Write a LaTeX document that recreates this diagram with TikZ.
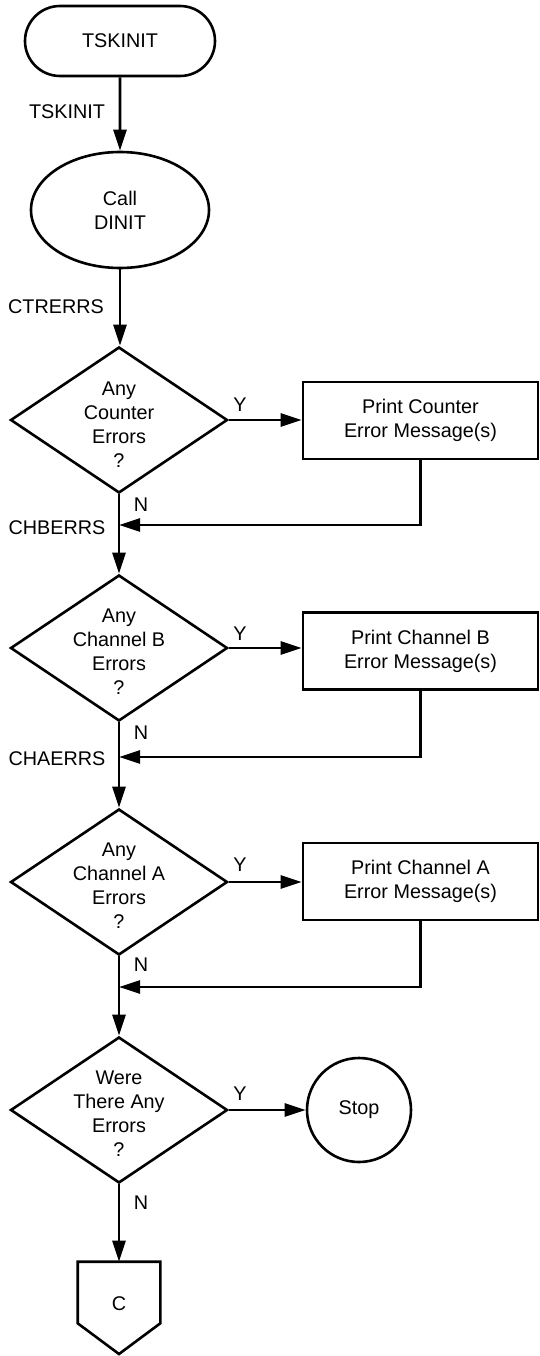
\documentclass[tikz,border=0pt]{standalone}
\usepackage{fontspec}
\setmainfont{Liberation Sans}
\usetikzlibrary{shapes.geometric,shapes.misc,arrows.meta}
\begin{document}
\begin{tikzpicture}[x=1pt,y=-1pt,line width=2.6pt,
  font=\fontsize{19.8}{24}\selectfont,
  term/.style={rounded rectangle,draw,minimum width=190pt,minimum height=70pt,inner sep=0pt},
  proc/.style={ellipse,draw,minimum width=178pt,minimum height=116pt,inner sep=0pt,align=center},
  dec/.style={diamond,draw,minimum width=217pt,minimum height=146pt,inner sep=0pt},
  txt/.style={align=center,inner sep=0pt},
  msgbox/.style={rectangle,draw,minimum width=235pt,minimum height=77pt,inner sep=0pt,align=center},
  stopc/.style={circle,draw,minimum size=104pt,inner sep=0pt},
  lbl/.style={inner sep=0pt},
  flow/.style={-{Triangle[length=21pt,width=13pt]}}]
\useasboundingbox (0,0) rectangle (539,1356);

% main column
\node[term] (t) at (120,41) {TSKINIT};
\node[proc] (p) at (120,210) {Call\\DINIT};
\node[dec] (d1) at (119,420) {};
\node[txt] (d1t) at (119,425) {Any\\Counter\\Errors\\?};
\node[dec] (d2) at (119,648) {};
\node[txt] (d2t) at (119,652) {Any\\Channel B\\Errors\\?};
\node[dec] (d3) at (119,882) {};
\node[txt] (d3t) at (119,886) {Any\\Channel A\\Errors\\?};
\node[dec] (d4) at (119,1110) {};
\node[txt] (d4t) at (119,1114) {Were\\There Any\\Errors\\?};

% right column
\node[msgbox] (b1) at (420.5,420.5) {Print Counter\\Error Message(s)};
\node[msgbox] (b2) at (420.5,651) {Print Channel B\\Error Message(s)};
\node[msgbox] (b3) at (420.5,881.5) {Print Channel A\\Error Message(s)};
\node[stopc] (s) at (359,1110) {Stop};

% off-page connector
\node[minimum width=80pt,minimum height=59pt,inner sep=0pt] (c) at (119,1292.5) {};
\coordinate (cp) at (119,1354);
\draw[line join=miter] (c.north west) -- (c.south west) -- (cp) -- (c.south east) -- (c.north east) -- cycle;
\node[lbl] (ct) at (119,1304) {C};

% labels
\node[lbl] (l0) at (67,112) {TSKINIT};
\node[lbl] (l1) at (56,307) {CTRERRS};
\node[lbl] (l2) at (57,528) {CHBERRS};
\node[lbl] (l3) at (57,759) {CHAERRS};
\node[lbl] at (240,405) {Y};
\node[lbl] at (240,634) {Y};
\node[lbl] at (240,865) {Y};
\node[lbl] at (240,1094) {Y};
\node[lbl] at (141,505) {N};
\node[lbl] at (141,733) {N};
\node[lbl] at (141,965) {N};
\node[lbl] at (141,1203) {N};

% junctions
\coordinate (j1) at (119,525);
\coordinate (j2) at (119,757);
\coordinate (j3) at (119,987);

% connectors
\draw[flow] (t) -- (p);
\draw[flow] (p.south) -- (p.south |- d1.north);
\draw[flow] (d1.south) -- (d2.north);
\draw[flow] (d2.south) -- (d3.north);
\draw[flow] (d3.south) -- (d4.north);
\draw[flow] (d4.south) -- (c.north);
\draw[flow] (d1.east) -- (d1.east -| b1.west);
\draw[flow] (d2.east) -- (d2.east -| b2.west);
\draw[flow] (d3.east) -- (d3.east -| b3.west);
\draw[flow] (d4.east) -- (s.west);
\draw[flow] (b1.south) |- (j1);
\draw[flow] (b2.south) |- (j2);
\draw[flow] (b3.south) |- (j3);
\end{tikzpicture}
\end{document}
